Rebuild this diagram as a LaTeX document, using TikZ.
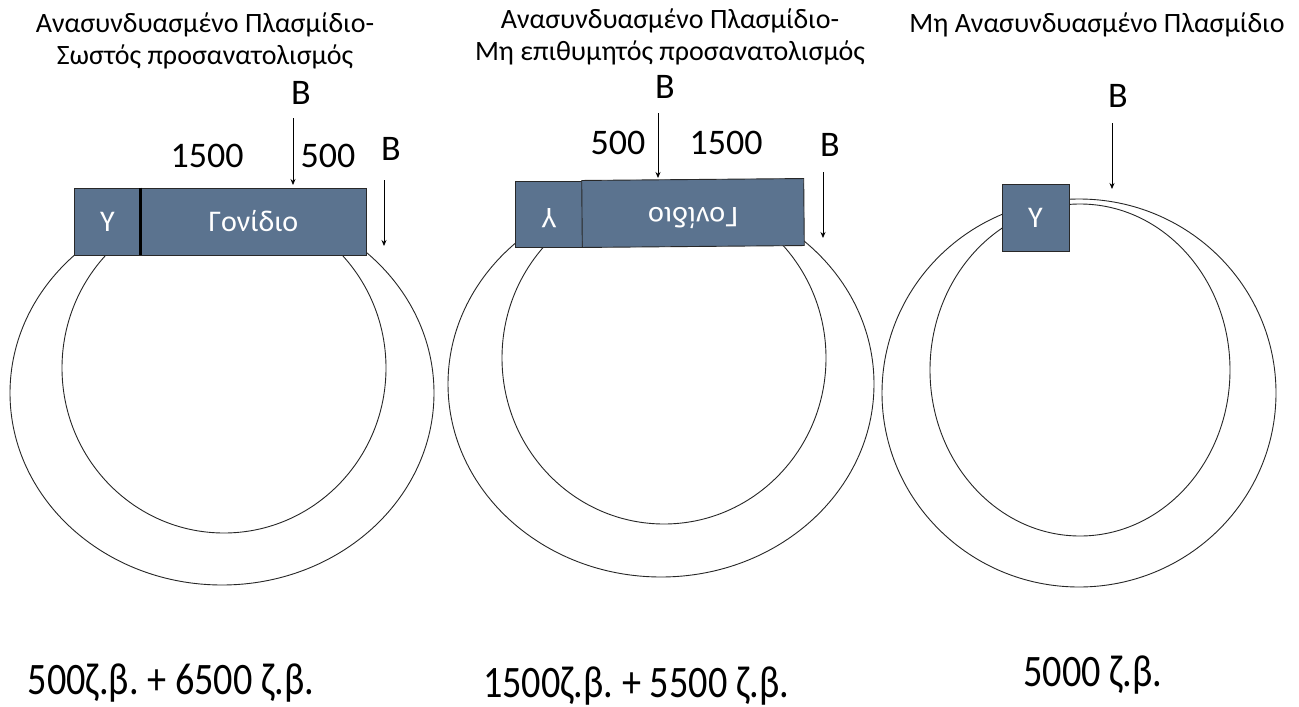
\documentclass[tikz,border=0pt]{standalone}
\usepackage{fontspec}
\setmainfont{Carlito}
\newfontfamily\condfont[FakeStretch=0.85]{Carlito}
\usetikzlibrary{arrows.meta}
\definecolor{boxblue}{RGB}{91,115,143}
\definecolor{edge}{RGB}{40,40,40}
\frenchspacing
\begin{document}
\begin{tikzpicture}[x=1pt,y=-1pt,
  ring/.style={draw=black!85, line width=0.9pt},
  dnabox/.style={draw=edge, fill=boxblue, line width=0.9pt, inner sep=0pt},
  boxtxt/.style={text=white, font=\fontsize{30}{30}\selectfont, inner sep=0pt},
  arr/.style={-{Stealth[length=6pt,width=5pt]}, line width=0.8pt},
  title/.style={font=\fontsize{28}{32}\selectfont, align=center, inner sep=0pt},
  lbl/.style={font=\fontsize{36}{36}\selectfont, inner sep=0pt},
  sumtxt/.style={font=\condfont\fontsize{45}{45}\selectfont\frenchspacing, inner sep=0pt}]
\useasboundingbox (0,0) rectangle (1299,707);
\fill[white] (0,0) rectangle (1299,707);

% ---------- Panel 1 ----------
\node[title] (t1) at (205,41) {Ανασυνδυασμένο Πλασμίδιο-\\Σωστός προσανατολισμός};
\draw[ring] (222,393) ellipse [x radius=212pt, y radius=192pt];
\draw[ring] (224,368) ellipse [x radius=162pt, y radius=165pt];
\node[dnabox, minimum width=67pt, minimum height=67pt] (y1) at (107.5,221.5) {};
\node[dnabox, minimum width=225pt, minimum height=67pt] (g1) at (253.5,221.5) {};
\draw[line width=2.2pt] (g1.north west) -- (g1.south west);
\node[boxtxt] (y1t) at (y1) {Υ};
\node[boxtxt] (g1t) at (g1) {Γονίδιο};
\node[lbl] (b1) at (301,93) {B};
\node[lbl] (n1a) at (207,156) {1500};
\node[lbl] (n1b) at (328,156) {500};
\node[lbl] (b1r) at (391,149) {B};
\coordinate (a1s) at (293,118); \coordinate (a1e) at (293,185);
\coordinate (a2s) at (384,180); \coordinate (a2e) at (384,246);
\draw[arr] (a1s) -- (a1e);
\draw[arr] (a2s) -- (a2e);
\node[sumtxt] (s1) at (171,683) {500ζ.β. + 6500 ζ.β.};

% ---------- Panel 2 ----------
\node[title] (t2) at (670,37) {Ανασυνδυασμένο Πλασμίδιο-\\Μη επιθυμητός προσανατολισμός};
\draw[ring] (661,384) ellipse [x radius=213pt, y radius=193pt];
\draw[ring] (664,358) ellipse [x radius=162pt, y radius=166pt];
\node[dnabox, minimum width=67pt, minimum height=66pt] (y2) at (548.5,214) {};
\node[dnabox, minimum width=222pt, minimum height=67pt, rotate=0.5] (g2) at (693,213) {};
\node[boxtxt, rotate=180] (y2t) at (549,218) {Υ};
\node[boxtxt, rotate=180.5] (g2t) at (693,218) {Γονίδιο};
\node[lbl] (b2) at (665,87) {B};
\node[lbl] (n2a) at (618,143) {500};
\node[lbl] (n2b) at (726,143) {1500};
\node[lbl] (b2r) at (830,145) {B};
\coordinate (a3s) at (658,113); \coordinate (a3e) at (658,178);
\coordinate (a4s) at (823,172); \coordinate (a4e) at (823,238);
\draw[arr] (a3s) -- (a3e);
\draw[arr] (a4s) -- (a4e);
\node[sumtxt] (s2) at (636,686) {1500ζ.β. + 5500 ζ.β.};

% ---------- Panel 3 ----------
\node[title] (t3) at (1097,25) {Μη Ανασυνδυασμένο Πλασμίδιο};
\draw[ring] (1079,393) ellipse [x radius=197pt, y radius=194pt];
\draw[ring] (1080,370) ellipse [x radius=150pt, y radius=166pt];
\node[dnabox, minimum width=67pt, minimum height=67pt] (y3) at (1035.5,217.5) {};
\node[boxtxt] (y3t) at (y3) {Υ};
\node[lbl] (b3) at (1118,96) {B};
\coordinate (a5s) at (1112,123); \coordinate (a5e) at (1112,189);
\draw[arr] (a5s) -- (a5e);
\node[sumtxt] (s3) at (1093,675) {5000 ζ.β.};
\end{tikzpicture}
\end{document}
